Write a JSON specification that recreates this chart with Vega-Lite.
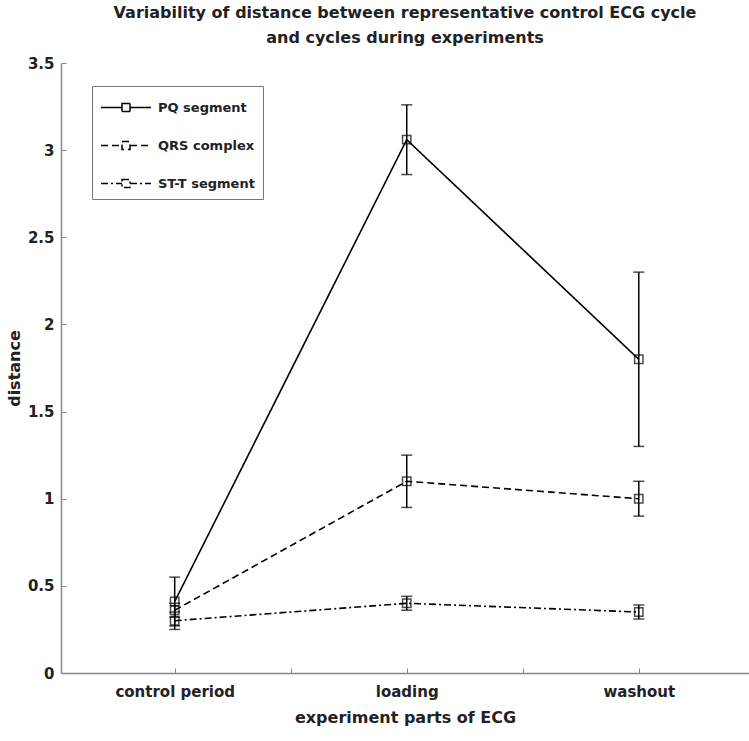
{
  "$schema": "https://vega.github.io/schema/vega-lite/v6.json",
  "autosize": "none",
  "width": 688,
  "height": 610,
  "padding": {"left": 61, "top": 63, "right": 0, "bottom": 68},
  "background": "white",
  "title": {
    "text": ["Variability of distance between representative control ECG cycle", "and cycles during experiments"],
    "font": "DejaVu Sans",
    "fontSize": 16,
    "fontWeight": "bold",
    "color": "#222",
    "lineHeight": 25,
    "anchor": "middle",
    "frame": "group",
    "offset": 10
  },
  "config": {
    "view": {"stroke": null},
    "axis": {
      "labelFont": "DejaVu Sans",
      "labelFontSize": 15,
      "labelFontWeight": "bold",
      "labelColor": "#222",
      "titleFont": "DejaVu Sans",
      "titleFontSize": 16,
      "titleFontWeight": "bold",
      "titleColor": "#222",
      "domainColor": "#888",
      "domainWidth": 1.5,
      "tickColor": "#888",
      "tickWidth": 1,
      "grid": false
    }
  },
  "data": {
    "values": [
      {"series": "PQ segment", "part": "control period", "pos": 1, "mean": 0.41, "lo": 0.27, "hi": 0.55},
      {"series": "PQ segment", "part": "loading", "pos": 2, "mean": 3.06, "lo": 2.86, "hi": 3.26},
      {"series": "PQ segment", "part": "washout", "pos": 3, "mean": 1.8, "lo": 1.3, "hi": 2.3},
      {"series": "QRS complex", "part": "control period", "pos": 1, "mean": 0.36, "lo": 0.32, "hi": 0.4},
      {"series": "QRS complex", "part": "loading", "pos": 2, "mean": 1.1, "lo": 0.95, "hi": 1.25},
      {"series": "QRS complex", "part": "washout", "pos": 3, "mean": 1.0, "lo": 0.9, "hi": 1.1},
      {"series": "ST-T segment", "part": "control period", "pos": 1, "mean": 0.3, "lo": 0.25, "hi": 0.35},
      {"series": "ST-T segment", "part": "loading", "pos": 2, "mean": 0.4, "lo": 0.36, "hi": 0.44},
      {"series": "ST-T segment", "part": "washout", "pos": 3, "mean": 0.35, "lo": 0.31, "hi": 0.39}
    ]
  },
  "encoding": {
    "x": {
      "field": "pos", "type": "quantitative",
      "scale": {"domain": [0.51, 3.475], "nice": false, "zero": false},
      "axis": {
        "title": "experiment parts of ECG",
        "values": [1, 1.5, 2, 2.5, 3],
        "labelExpr": "datum.value == 1 ? 'control period' : datum.value == 2 ? 'loading' : datum.value == 3 ? 'washout' : ''",
        "tickSize": -5,
        "labelPadding": 16,
        "titlePadding": 10
      }
    }
  },
  "layer": [
    {
      "mark": {"type": "line", "color": "black", "strokeWidth": 1.6},
      "encoding": {
        "y": {
          "field": "mean", "type": "quantitative",
          "scale": {"domain": [0, 3.5], "nice": false},
          "axis": {"title": "distance", "values": [0, 0.5, 1, 1.5, 2, 2.5, 3, 3.5], "format": "~f", "tickSize": -5, "labelPadding": 12, "titlePadding": 5}
        },
        "strokeDash": {
          "field": "series", "type": "nominal",
          "scale": {"domain": ["PQ segment", "QRS complex", "ST-T segment"], "range": [[1, 0], [7, 4], [7, 3, 2, 3]]},
          "legend": {
            "title": null,
            "orient": "none",
            "legendX": 31,
            "legendY": 23,
            "strokeColor": "#777",
            "fillColor": "white",
            "padding": 8,
            "rowPadding": 17,
            "symbolType": "M-1,0H0.68M1.32,0H3M0.68,-0.32H1.32V0.32H0.68Z",
            "symbolSize": 625,
            "symbolStrokeColor": "black",
            "symbolStrokeWidth": 1.5,
            "symbolFillColor": "transparent",
            "labelFont": "DejaVu Sans",
            "labelFontSize": 13,
            "labelFontWeight": "bold",
            "labelColor": "#222",
            "labelOffset": 31
          }
        }
      }
    },
    {
      "mark": {"type": "point", "shape": "square", "filled": false, "size": 70, "color": "black", "strokeWidth": 1.5},
      "encoding": {"y": {"field": "mean", "type": "quantitative"}}
    },
    {
      "mark": {"type": "rule", "color": "black", "strokeWidth": 1.5},
      "encoding": {"y": {"field": "lo", "type": "quantitative"}, "y2": {"field": "hi"}}
    },
    {
      "mark": {"type": "tick", "orient": "horizontal", "color": "black", "size": 11, "thickness": 1.5},
      "encoding": {"y": {"field": "lo", "type": "quantitative"}}
    },
    {
      "mark": {"type": "tick", "orient": "horizontal", "color": "black", "size": 11, "thickness": 1.5},
      "encoding": {"y": {"field": "hi", "type": "quantitative"}}
    }
  ]
}
